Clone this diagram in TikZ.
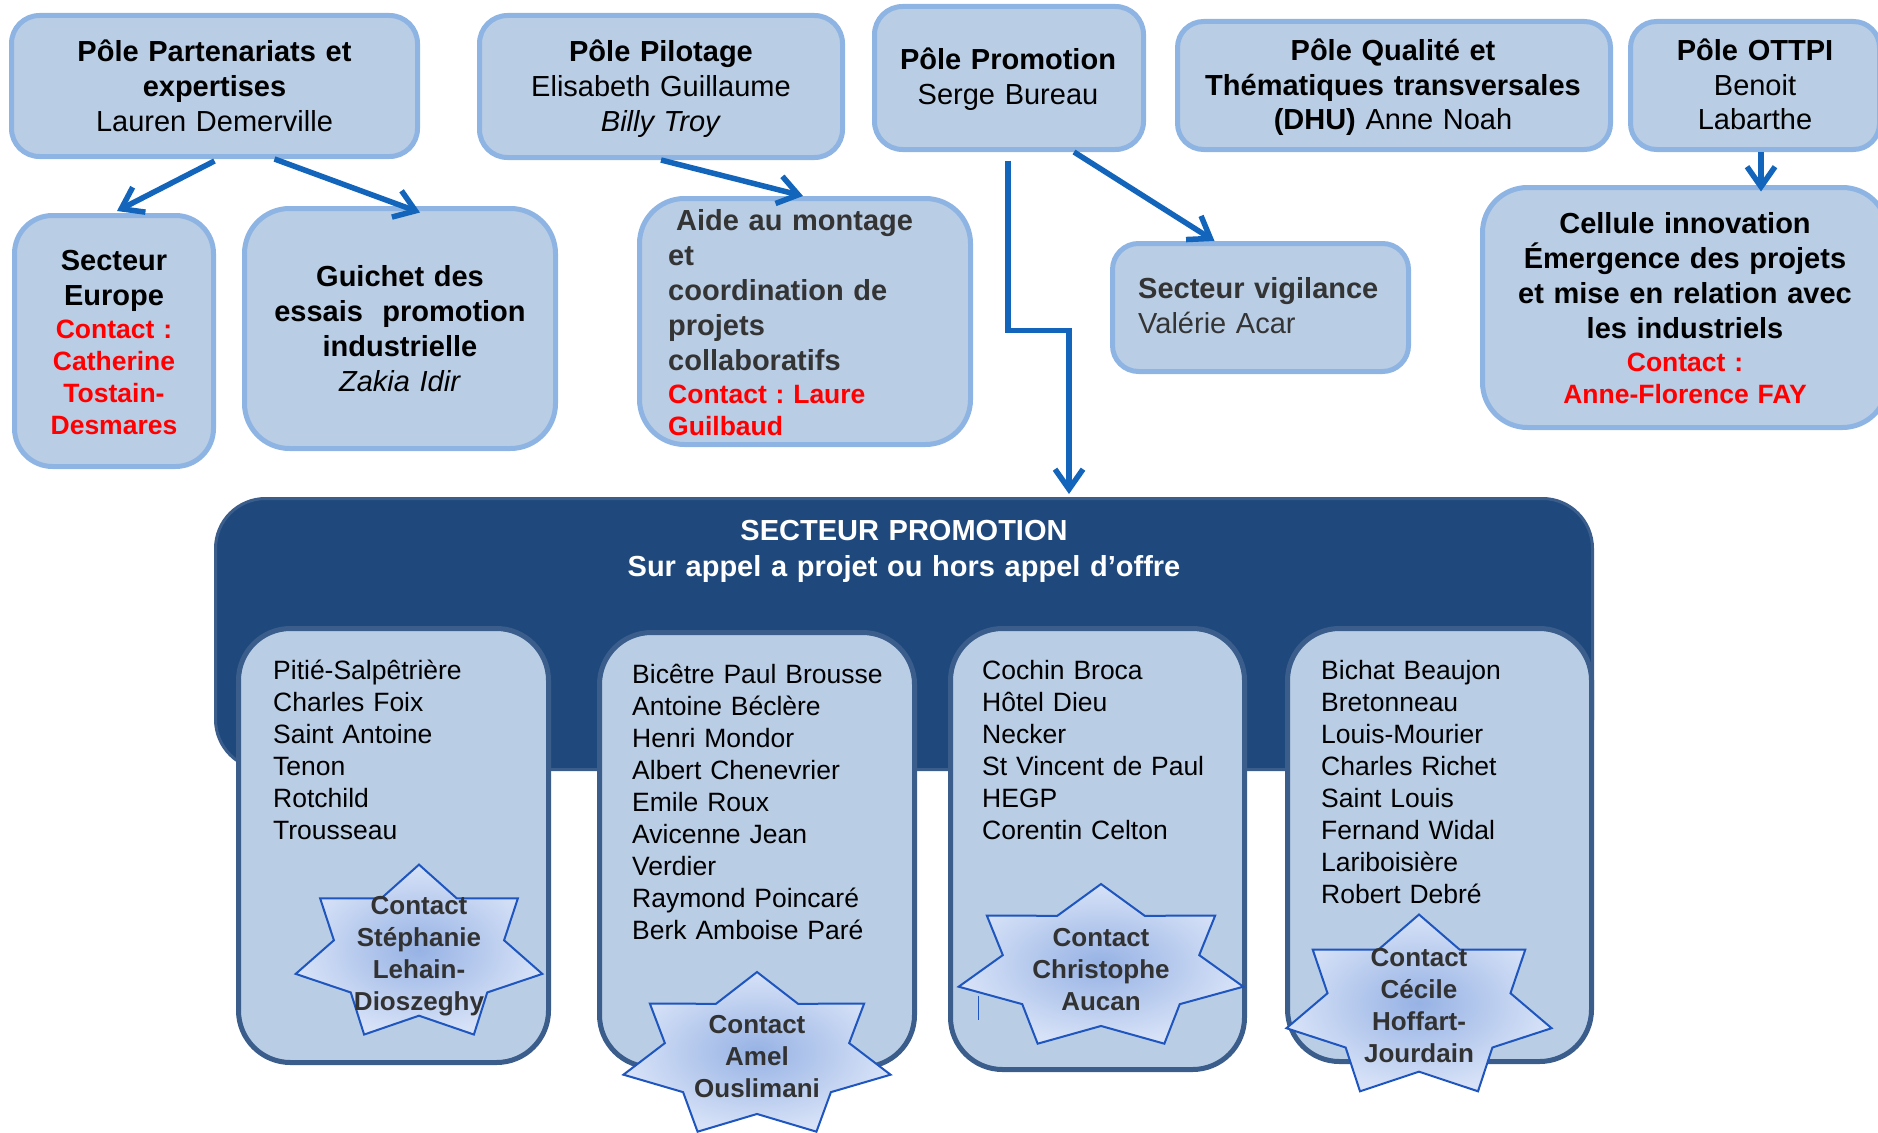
\documentclass[tikz,border=0pt]{standalone}
\usepackage{fontspec}
\setmainfont{Liberation Sans}
\usetikzlibrary{arrows.meta,fit,calc}
\definecolor{boxfill}{RGB}{185,205,229}
\definecolor{boxline}{RGB}{141,180,226}
\definecolor{darkfill}{RGB}{31,73,125}
\definecolor{darkline}{RGB}{58,93,140}
\definecolor{subline}{RGB}{58,93,140}
\definecolor{arrowblue}{RGB}{18,101,186}
\definecolor{contactred}{RGB}{255,0,0}
\definecolor{txtgray}{RGB}{52,52,52}
\definecolor{starline}{RGB}{30,85,190}
\definecolor{starin}{RGB}{150,178,228}
\definecolor{starout}{RGB}{215,226,247}
\definecolor{startext}{RGB}{50,50,50}
\newcommand\mystar[4]{%
  \path[starsty] ({#1},{#2-#4})
    \foreach \k in {1,...,13}{ -- ({#1+#3*(1-0.31*mod(\k,2))*cos(-90+\k*25.7143)},{#2+#4*(1-0.31*mod(\k,2))*sin(-90+\k*25.7143)}) } -- cycle;}
\begin{document}
\frenchspacing
\begin{tikzpicture}[x=1pt,y=-1pt,
  topbox/.style={draw=boxline, fill=boxfill, line width=5pt, inner sep=0pt},
  subbox/.style={draw=subline, fill=boxfill, line width=5pt, inner sep=0pt, rounded corners=52pt},
  arr/.style={draw=arrowblue, line width=5.5pt, -{Straight Barb[length=20pt,width=28pt]}},
  starsty/.style={draw=starline, line width=2pt, shade, inner color=starin, outer color=starout},
  ctr/.style={inner sep=0pt, text width=760pt, align=center, anchor=base},
  lft/.style={inner sep=0pt, text width=600pt, align=left, anchor=base west},
  f29/.style={font=\fontsize{29}{35}\selectfont},
  f29b/.style={font=\fontsize{29}{35}\selectfont\bfseries},
  red26/.style={font=\fontsize{26.5}{32}\selectfont\bfseries, text=contactred},
  listtxt/.style={font=\fontsize{26.5}{32}\selectfont},
  startxt/.style={font=\fontsize{26}{32}\selectfont\bfseries, text=startext}]
\useasboundingbox (0,0) rectangle (1878,1132);

% ---- top row boxes
\node[topbox, rounded corners=28pt, fit={(11.5,15.5) (417.5,156.5)}] (pp) {};
\node[topbox, rounded corners=28pt, fit={(479.5,15.5) (842.5,157.5)}] (pil) {};
\node[topbox, rounded corners=28pt, fit={(874.5,6.5) (1143.5,149.5)}] (prom) {};
\node[topbox, rounded corners=26pt, fit={(1177.5,21.5) (1610.5,149.5)}] (qual) {};
\node[topbox, rounded corners=26pt, fit={(1630.5,21.5) (1879.5,149.5)}] (ottpi) {};
% ---- second row boxes
\node[topbox, rounded corners=38pt, fit={(14.5,215.5) (213.5,466.5)}] (eur) {};
\node[topbox, rounded corners=45pt, fit={(244.5,208.5) (555.5,448.5)}] (gui) {};
\node[topbox, rounded corners=45pt, fit={(639.5,198.5) (970.5,444.5)}] (aide) {};
\node[topbox, rounded corners=26pt, fit={(1112.5,243.5) (1408.5,371.5)}] (vig) {};
\node[topbox, rounded corners=45pt, fit={(1482.5,187.5) (1887.5,427.5)}] (cel) {};

% ---- texts top row
\node[ctr, f29] (ppt) at (214.5,62) {\textbf{Pôle Partenariats et}\\\textbf{expertises}\\Lauren Demerville};
\node[ctr, f29] (pilt) at (661,62) {\textbf{Pôle Pilotage}\\Elisabeth Guillaume\\\textit{Billy Troy}};
\node[ctr, f29] (promt) at (1008,70) {\textbf{Pôle Promotion}\\Serge Bureau};
\node[ctr, f29] (qualt) at (1393,60) {\textbf{Pôle Qualité et}\\\textbf{Thématiques transversales}\\\textbf{(DHU)} Anne Noah};
\node[ctr, f29] (ottpit) at (1755,60) {\textbf{Pôle OTTPI}\\Benoit\\Labarthe};

% ---- texts second row
\node[ctr, f29b] (eurt) at (114,270) {Secteur\\Europe};
\node[ctr, red26] (eurc) at (114,338) {Contact :\\Catherine\\Tostain-\\Desmares};
\node[ctr, f29] (guit) at (400,286) {\textbf{Guichet des}\\\textbf{essais~ promotion}\\\textbf{industrielle}\\\textit{Zakia Idir}};
\node[lft, f29b, text=txtgray] (aidet) at (668,230) {\hspace*{8pt}Aide au montage\\et\\coordination de\\projets\\collaboratifs};
\node[lft, red26] (aidec) at (668,403) {Contact : Laure\\Guilbaud};
\node[lft, f29, text=txtgray] (vigt) at (1138,298) {\textbf{Secteur vigilance}\\Valérie Acar};
\node[ctr, f29b] (celt) at (1685,233) {Cellule innovation\\Émergence des projets\\et mise en relation avec\\les industriels};
\node[ctr, red26] (celc) at (1685,371) {Contact :\\Anne-Florence FAY};

% ---- connectors
\draw[arr] ([yshift=-2pt]pp.south) -- ([xshift=3pt,yshift=2pt]eur.north);
\draw[arr] ([xshift=60pt]pp.south) -- ([xshift=20pt,yshift=-6.5pt]gui.north);
\draw[arr] (pil.south) -- ([xshift=-2pt]aide.north);
\draw[arr] ([xshift=65pt]prom.south) -- ([xshift=-46pt]vig.north);
\draw[arr] ([xshift=6pt]ottpi.south) -- ([xshift=76pt,yshift=-6.5pt]cel.north);

% ---- secteur promotion
\node[fit={(215.5,498.5) (1592.5,769.5)}, draw=darkline, fill=darkfill, line width=3pt, rounded corners=50pt, inner sep=0pt] (dark) {};
\draw[arr] ([xshift=-1pt,yshift=-8.5pt]prom.south) -- ++(0,170) -| ([xshift=165pt,yshift=3pt]dark.north);
\node[ctr, font=\fontsize{29}{36}\selectfont\bfseries, text=white] (darkt) at (904,540) {SECTEUR PROMOTION\\Sur appel a projet ou hors appel d’offre};

\node[subbox, fit={(238.5,628.5) (548.5,1062.5)}] (sa) {};
\node[subbox, fit={(599.5,632.5) (914.5,1067)}] (sb) {};
\node[subbox, fit={(950.5,628.5) (1244.5,1069.5)}] (sc) {};
\node[subbox, fit={(1287.5,628.5) (1591.5,1061.5)}] (sd) {};

\node[lft, listtxt] (sat) at (273,679) {Pitié-Salpêtrière\\Charles Foix\\Saint Antoine\\Tenon\\Rotchild\\Trousseau};
\node[lft, listtxt] (sbt) at (632,683) {Bicêtre Paul Brousse\\Antoine Béclère\\Henri Mondor\\Albert Chenevrier\\Emile Roux\\Avicenne Jean\\Verdier\\Raymond Poincaré\\Berk Amboise Paré};
\node[lft, listtxt] (sct) at (982,679) {Cochin Broca\\Hôtel Dieu\\Necker\\St Vincent de Paul\\HEGP\\Corentin Celton};
\node[lft, listtxt] (sdt) at (1321,679) {Bichat Beaujon\\Bretonneau\\Louis-Mourier\\Charles Richet\\Saint Louis\\Fernand Widal\\Lariboisière\\Robert Debré};

% ---- stars
\mystar{419}{954}{126.5}{89.4}
\mystar{757}{1056}{137}{84}
\mystar{1101}{968}{146}{84}
\mystar{1419}{1007.5}{136}{93}
\draw[starline, line width=1pt] (978,996) -- (978,1020);

\node[ctr, startxt] (s1t) at (419,914) {Contact\\Stéphanie\\Lehain-\\Dioszeghy};
\node[ctr, startxt] (s2t) at (757,1033) {Contact\\Amel\\Ouslimani};
\node[ctr, startxt] (s3t) at (1101,946) {Contact\\Christophe\\Aucan};
\node[ctr, startxt] (s4t) at (1419,966.5) {Contact\\Cécile\\Hoffart-\\Jourdain};
\end{tikzpicture}
\end{document}
